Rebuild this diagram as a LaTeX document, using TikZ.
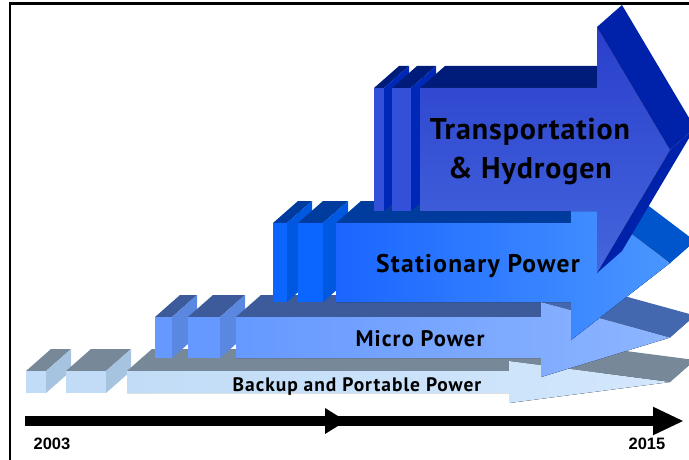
\documentclass[tikz,border=0pt]{standalone}
\usepackage{fontspec}
\setmainfont{PT Sans}
\newfontfamily\yearfont{Liberation Sans}
\newfontfamily\lblfont[LetterSpace=5]{PT Sans}
\newfontfamily\bigfont[LetterSpace=3]{PT Sans}
\usetikzlibrary{arrows.meta}

\definecolor{bkfront}{HTML}{C2DCF7}
\definecolor{bkfrontr}{HTML}{D2E7FC}
\definecolor{bktop}{HTML}{778899}
\definecolor{bkside}{HTML}{A6C4E0}
\definecolor{mcfront}{HTML}{6699FF}
\definecolor{mcfrontr}{HTML}{8DB5FF}
\definecolor{mctop}{HTML}{3D5A9A}
\definecolor{mcslant}{HTML}{4468B0}
\definecolor{mcside}{HTML}{5A88E0}
\definecolor{stfront}{HTML}{1A66FF}
\definecolor{stfrontr}{HTML}{4A96FF}
\definecolor{sttop}{HTML}{003C9E}
\definecolor{stslant}{HTML}{0055CC}
\definecolor{stside}{HTML}{0058E0}
\definecolor{stblock}{HTML}{0A66FF}
\definecolor{trfront}{HTML}{2A3FCC}
\definecolor{trfrontb}{HTML}{4466DD}
\definecolor{trtop}{HTML}{001C7A}
\definecolor{trslant}{HTML}{0022AA}
\definecolor{trside}{HTML}{0028B8}
\definecolor{trblock}{HTML}{3350D8}

% one 3d block: x0, x1, top, bottom, front, side, top colour
\newcommand{\blk}[7]{%
  \fill[#7] (#1,#3) -- (#2,#3) -- (#2+25,#3-22) -- (#1+25,#3-22) -- cycle;
  \fill[#6] (#2,#3) -- (#2+25,#3-22) -- (#2+25,#4-22) -- (#2,#4) -- cycle;
  \fill[#5] (#1,#3) rectangle (#2,#4);
}
% one 3d arrow: x0, head x, top, bottom, head top, head bottom, tip y, style prefix
\newcommand{\layer}[8]{%
  \fill[#8 top] (#1,#3) -- (#2,#3) -- (#2+25,#3-22) -- (#1+25,#3-22) -- cycle;
  \fill[#8 slant] (670,#7) -- (#2,#6) -- (#2+25,#6-22) -- (695,#7-22) -- cycle;
  \fill[#8 slant] (#2,#5) -- (670,#7) -- (695,#7-22) -- (#2+25,#5-22) -- cycle;
  \fill[#8 front] (#1,#3) -- (#2,#3) -- (#2,#5) -- (670,#7) -- (#2,#6)
    -- (#2,#4) -- (#1,#4) -- cycle;
}

\begin{document}
\begin{tikzpicture}[x=1pt, y=-1pt,
    bk top/.style={fill=bktop}, bk slant/.style={fill=bktop},
    bk front/.style={left color=bkfront, right color=bkfrontr},
    mc top/.style={fill=mctop}, mc slant/.style={fill=mcslant},
    mc front/.style={left color=mcfront, right color=mcfrontr},
    st top/.style={fill=sttop}, st slant/.style={fill=stslant},
    st front/.style={left color=stfront, right color=stfrontr},
    tr top/.style={fill=trtop}, tr slant/.style={fill=trslant},
    tr front/.style={top color=trfront, bottom color=trfrontb},
    lbl/.style={text=black, inner sep=0pt, anchor=base},
    yr/.style={font=\yearfont\bfseries\fontsize{16.5}{18}\selectfont, inner sep=0pt, anchor=base}]
    \useasboundingbox (0,0) rectangle (689,460);

    % backup and portable power
    \blk{26}{46}{371}{393}{bkfront}{bkside}{bktop}
    \blk{66}{106}{371}{393}{bkfront}{bkside}{bktop}
    \layer{127}{509}{371}{393}{361}{403}{382}{bk}
    \node [lbl, font=\lblfont\bfseries\fontsize{19.5}{20}\selectfont] (tBackup) at (357,391) {Backup and Portable Power};

    % micro power
    \blk{155}{172}{317}{358}{mcfront}{mcside}{mctop}
    \blk{188}{220}{317}{358}{mcfront}{mcside}{mctop}
    \layer{236}{541}{317}{358}{302}{377}{337.5}{mc}
    \node [lbl, font=\lblfont\bfseries\fontsize{22.5}{24}\selectfont] (tMicro) at (420,346) {Micro Power};

    % stationary power
    \blk{273}{287}{223}{302}{stblock}{stside}{sttop}
    \blk{298}{323}{223}{302}{stblock}{stside}{sttop}
    \layer{336}{571}{223}{302}{188}{340}{263}{st}
    \node [lbl, font=\lblfont\bfseries\fontsize{25.5}{26}\selectfont] (tStation) at (478,272) {Stationary Power};

    % transportation and hydrogen
    \blk{374}{384}{88}{211}{trblock}{trside}{trtop}
    \blk{392}{411}{88}{211}{trblock}{trside}{trtop}
    \layer{420}{597}{88}{211}{27}{273}{150}{tr}
    \node [lbl, font=\bigfont\bfseries\fontsize{30}{39}\selectfont, align=center, anchor=center] (tTransport) at (530,152)
        {Transportation\\\& Hydrogen};

    % time line
    \coordinate (t0) at (25,421);
    \coordinate (tm) at (325,421);
    \coordinate (t1) at (684,421);
    \draw [line width=10pt, -{Triangle[length=31pt, width=26pt]}] (t0) -- (t1);
    \fill (tm) ++(0,-13) -- ++(21,13) -- ++(-21,13) -- cycle;
    \node [yr] (y2003) at (52,449) {2003};
    \node [yr] (y2015) at (647,449) {2015};

    % frame
    \draw [line width=2.2pt] (10,460) -- (10,3.5) -- (689,3.5);
\end{tikzpicture}
\end{document}
